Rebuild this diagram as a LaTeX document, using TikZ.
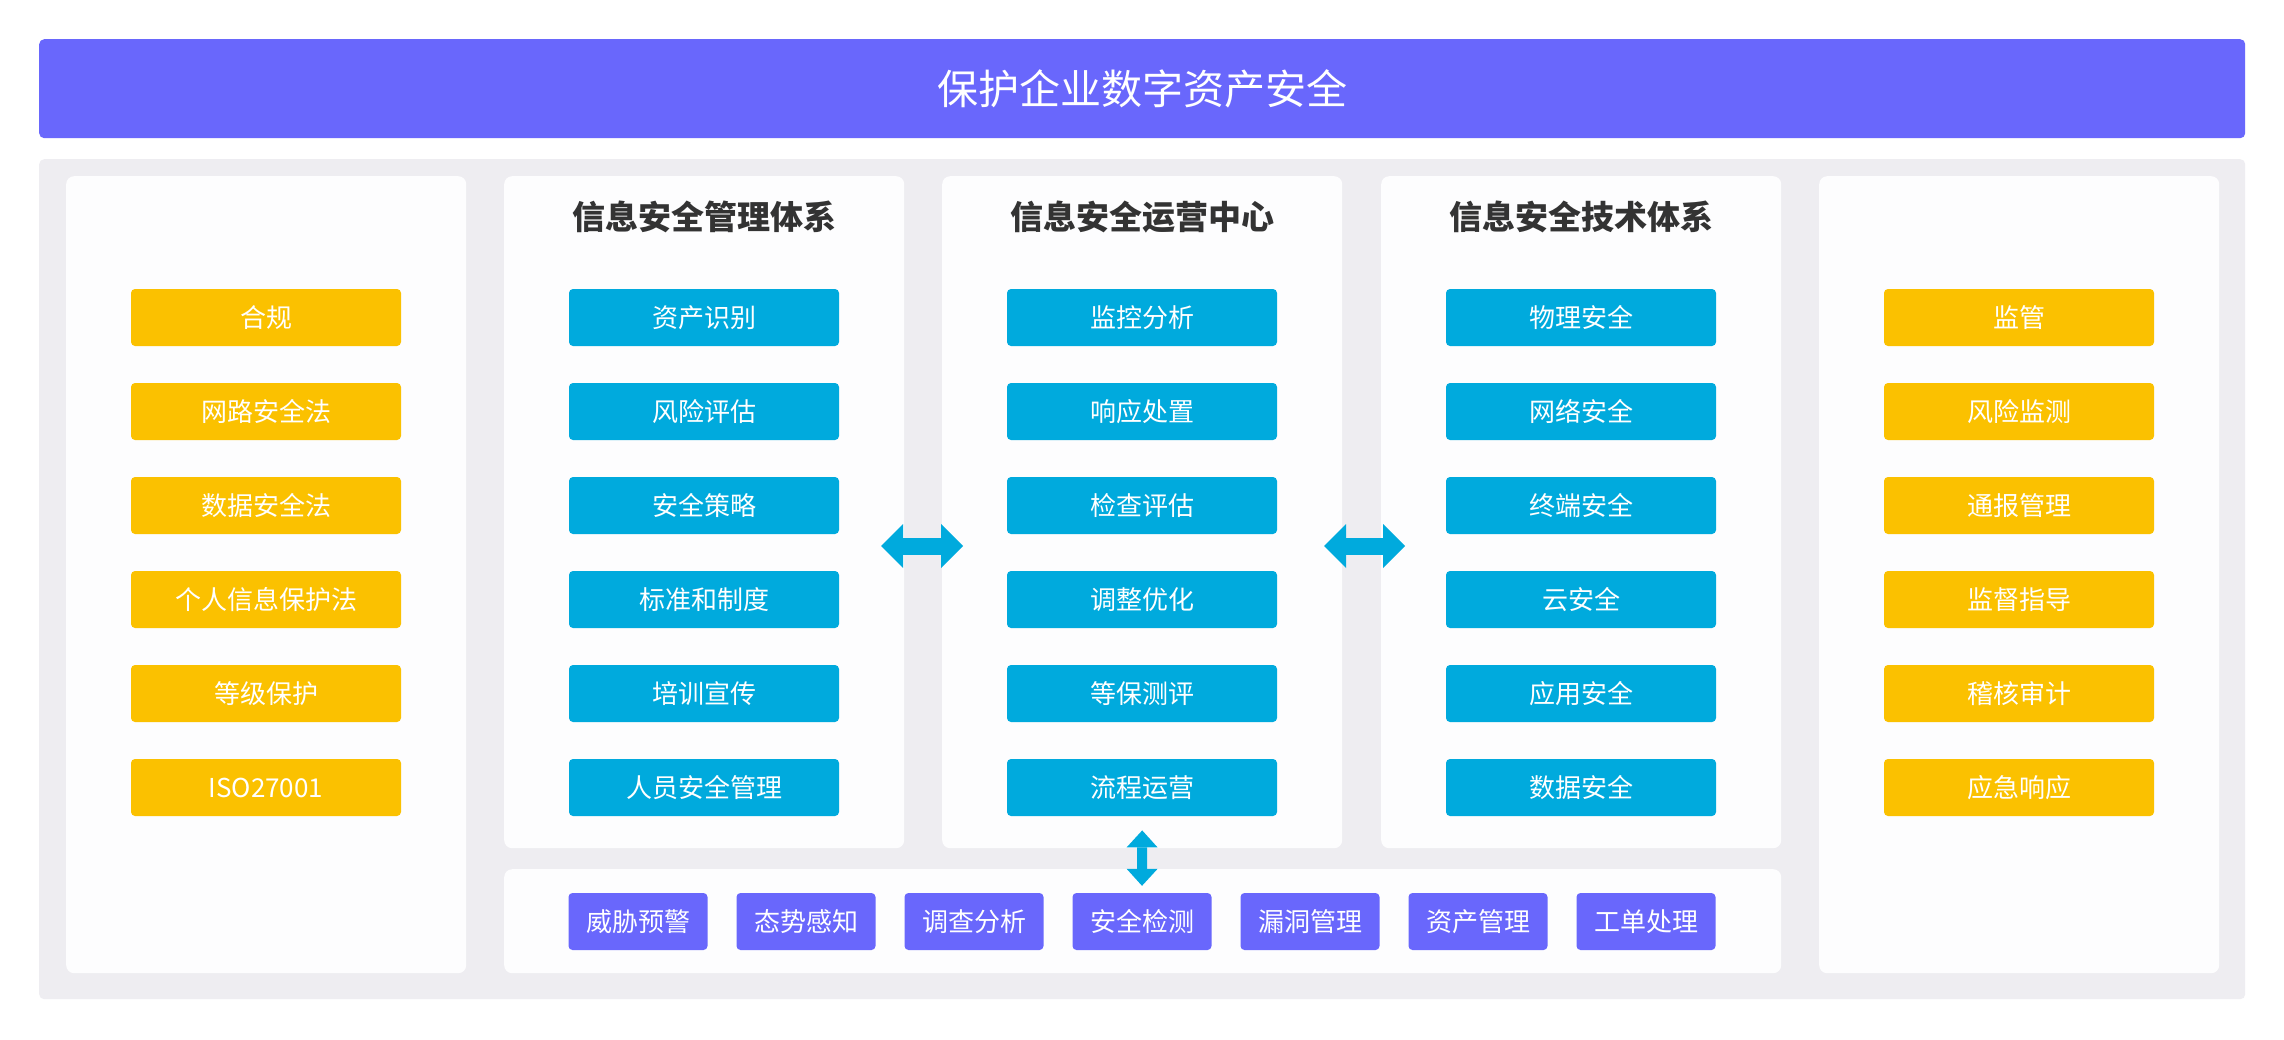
\documentclass[tikz,border=0pt]{standalone}
\usepackage{fontspec}
\setmainfont{Noto Sans CJK SC}
\usetikzlibrary{arrows.meta,calc}
\definecolor{hdr}{RGB}{105,103,252}
\definecolor{ylw}{RGB}{251,193,0}
\definecolor{blu}{RGB}{0,170,221}
\definecolor{pnl}{RGB}{238,237,241}
\definecolor{colbg}{RGB}{253,253,254}
\definecolor{ttl}{RGB}{51,51,51}
\begin{document}
\begin{tikzpicture}[x=1pt,y=-1pt,
  colbox/.style={fill=colbg, rounded corners=8pt, draw=none, inner sep=0pt, anchor=north west, minimum width=400pt},
  item/.style={rounded corners=4pt, minimum width=270pt, minimum height=57pt, inner sep=0pt, text=white, font=\fontsize{26}{30}\selectfont},
  law/.style={item, fill=ylw},
  sec/.style={item, fill=blu},
  tool/.style={item, fill=hdr, minimum width=139pt},
  coltitle/.style={font=\fontsize{33}{38}\selectfont\bfseries, text=ttl},
  hdbl/.style={draw=blu, line width=17pt, {Triangle[width=44pt,length=22pt,line width=0pt]}-{Triangle[width=44pt,length=22pt,line width=0pt]}},
  vdbl/.style={draw=blu, line width=10pt, {Triangle[width=31pt,length=17pt,line width=0pt]}-{Triangle[width=31pt,length=17pt,line width=0pt]}}
]
\useasboundingbox[fill=white] (0,0) rectangle (2284,1039);
% header
\node[fill=hdr, rounded corners=5pt, anchor=north west, minimum width=2206pt, minimum height=99pt, inner sep=0pt,
      text=white, font=\fontsize{41}{46}\selectfont] (header) at (39,39) {保护企业数字资产安全};
% gray panel
\node[fill=pnl, rounded corners=5pt, anchor=north west, minimum width=2206pt, minimum height=840pt, inner sep=0pt] (panel) at (39,159) {};
% columns
\node[colbox, minimum height=797pt] (col1) at (66,176) {};
\node[colbox, minimum height=672pt] (col2) at (504,176) {};
\node[colbox, minimum height=672pt] (col3) at (942,176) {};
\node[colbox, minimum height=672pt] (col4) at (1381,176) {};
\node[colbox, minimum height=797pt] (col5) at (1819,176) {};
\node[colbox, minimum width=1277pt, minimum height=104pt] (bottom) at (504,869) {};
% titles
\node[coltitle] (t2) at (704,217) {信息安全管理体系};
\node[coltitle] (t3) at (1142,217) {信息安全运营中心};
\node[coltitle] (t4) at (1581,217) {信息安全技术体系};
% column 1
\node[law] (l1) at (266,317.5) {合规};
\node[law] (l2) at (266,411.5) {网路安全法};
\node[law] (l3) at (266,505.5) {数据安全法};
\node[law] (l4) at (266,599.5) {个人信息保护法};
\node[law] (l5) at (266,693.5) {等级保护};
\node[law] (l6) at (266,787.5) {ISO27001};
% column 2
\node[sec] (m1) at (704,317.5) {资产识别};
\node[sec] (m2) at (704,411.5) {风险评估};
\node[sec] (m3) at (704,505.5) {安全策略};
\node[sec] (m4) at (704,599.5) {标准和制度};
\node[sec] (m5) at (704,693.5) {培训宣传};
\node[sec] (m6) at (704,787.5) {人员安全管理};
% column 3
\node[sec] (o1) at (1142,317.5) {监控分析};
\node[sec] (o2) at (1142,411.5) {响应处置};
\node[sec] (o3) at (1142,505.5) {检查评估};
\node[sec] (o4) at (1142,599.5) {调整优化};
\node[sec] (o5) at (1142,693.5) {等保测评};
\node[sec] (o6) at (1142,787.5) {流程运营};
% column 4
\node[sec] (s1) at (1581,317.5) {物理安全};
\node[sec] (s2) at (1581,411.5) {网络安全};
\node[sec] (s3) at (1581,505.5) {终端安全};
\node[sec] (s4) at (1581,599.5) {云安全};
\node[sec] (s5) at (1581,693.5) {应用安全};
\node[sec] (s6) at (1581,787.5) {数据安全};
% column 5
\node[law] (r1) at (2019,317.5) {监管};
\node[law] (r2) at (2019,411.5) {风险监测};
\node[law] (r3) at (2019,505.5) {通报管理};
\node[law] (r4) at (2019,599.5) {监督指导};
\node[law] (r5) at (2019,693.5) {稽核审计};
\node[law] (r6) at (2019,787.5) {应急响应};
% bottom tools
\node[tool] (b1) at (638,921.5) {威胁预警};
\node[tool] (b2) at (806,921.5) {态势感知};
\node[tool] (b3) at (974,921.5) {调查分析};
\node[tool] (b4) at (1142,921.5) {安全检测};
\node[tool] (b5) at (1310,921.5) {漏洞管理};
\node[tool] (b6) at (1478,921.5) {资产管理};
\node[tool] (b7) at (1646,921.5) {工单处理};
% arrows
\coordinate (h1a) at (881,546);
\coordinate (h1b) at (963,546);
\coordinate (h2a) at (1324,546);
\coordinate (h2b) at (1405,546);
\coordinate (va) at ([yshift=18pt]col3.south);
\coordinate (vb) at ([yshift=7pt]b4.north);
\draw[hdbl] (h1a) -- (h1b);
\draw[hdbl] (h2a) -- (h2b);
\draw[vdbl] (va) -- (vb);
\end{tikzpicture}
\end{document}
